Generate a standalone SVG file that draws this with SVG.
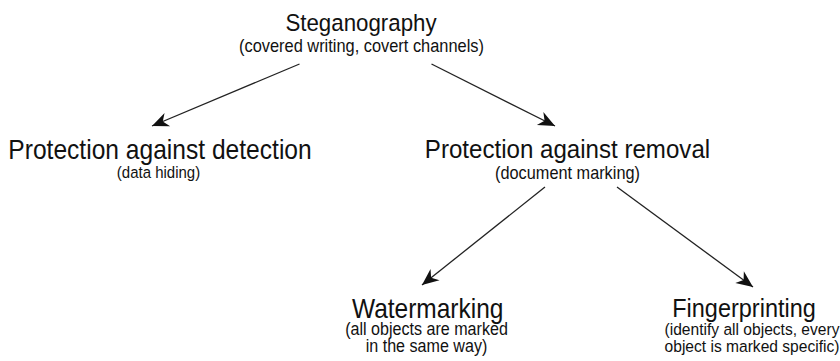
<svg xmlns="http://www.w3.org/2000/svg" width="840" height="361" viewBox="0 0 840 361">
<style>
text{font-family:"Liberation Sans",Arial,sans-serif;fill:#111;text-anchor:middle}
.t{font-size:24px}
.s{font-size:16px}
.c{stroke:#222;stroke-width:1.3;fill:none;marker-end:url(#ah)}
</style>
<defs>
<marker id="ah" markerUnits="userSpaceOnUse" markerWidth="20" markerHeight="20" viewBox="-16 -8 18 16" refX="0" refY="0" orient="auto">
<path d="M0,0 L-15,-6.5 L-10.5,0 L-15,6.5 Z" fill="#111"/>
</marker>
</defs>
<rect width="840" height="361" fill="#fff"/>
<g id="connectors">
<line class="c" x1="299.5" y1="64" x2="152" y2="126"/>
<line class="c" x1="431.5" y1="64" x2="555" y2="126"/>
<line class="c" x1="545" y1="187" x2="422" y2="285"/>
<line class="c" x1="617" y1="187" x2="753" y2="287"/>
</g>
<g id="steganography">
<text class="t" transform="translate(361,31) scale(1,1.1)" style="font-size:22.3px">Steganography</text>
<text class="s" transform="translate(361.5,51.5) scale(1,1.1)" style="font-size:16.4px">(covered writing, covert channels)</text>
</g>
<g id="detection">
<text class="t" transform="translate(160,159) scale(1,1.1)" style="font-size:24.6px">Protection against detection</text>
<text class="s" transform="translate(158.5,178) scale(1,1.1)" style="font-size:15px">(data hiding)</text>
</g>
<g id="removal">
<text class="t" transform="translate(567.5,157.5) scale(1,1.1)" style="font-size:24.1px">Protection against removal</text>
<text class="s" transform="translate(567.5,179) scale(1,1.1)" style="font-size:16.3px">(document marking)</text>
</g>
<g id="watermarking">
<text class="t" transform="translate(427.7,317.5) scale(1,1.12)" style="font-size:24.5px">Watermarking</text>
<text class="s" transform="translate(426.5,335) scale(1,1.1)" style="font-size:16.1px">(all objects are marked</text>
<text class="s" transform="translate(426.5,352) scale(1,1.1)" style="font-size:16.1px">in the same way)</text>
</g>
<g id="fingerprinting">
<text class="t" transform="translate(744,317) scale(1,1.12)" style="font-size:23.5px">Fingerprinting</text>
<text class="s" transform="translate(752,335) scale(1,1.1)" style="font-size:15.6px">(identify all objects, every</text>
<text class="s" transform="translate(752,352) scale(1,1.1)" style="font-size:15.6px">object is marked specific)</text>
</g>
</svg>
